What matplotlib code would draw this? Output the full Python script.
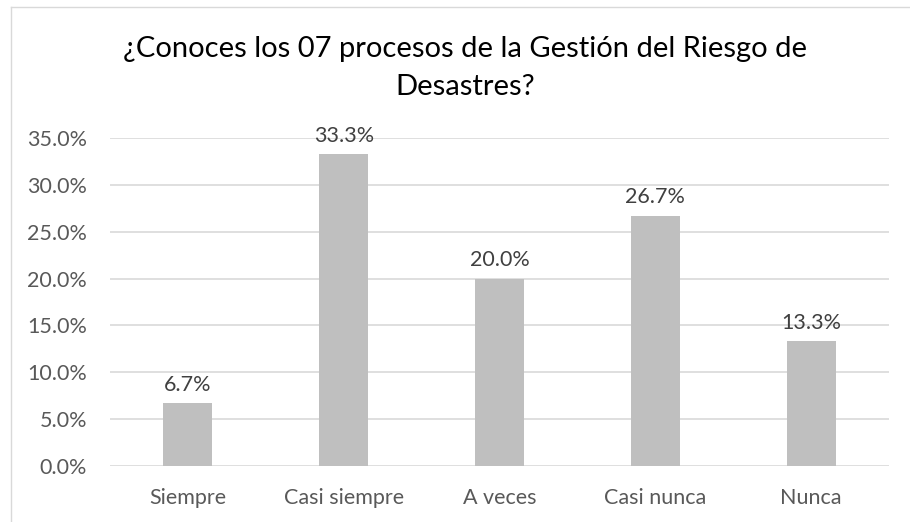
import matplotlib.pyplot as plt
from matplotlib.ticker import FuncFormatter
import numpy as np

categorias = ["Siempre", "Casi siempre", "A veces", "Casi nunca", "Nunca"]
porcentajes = [6.7, 33.3, 20.0, 26.7, 13.3]
titulo = "¿Conoces los 07 procesos de la Gestión del Riesgo de\nDesastres?"

plt.rcParams['font.family'] = ['Lato', 'DejaVu Sans']

fig = plt.figure(figsize=(9.1, 5.22), dpi=100)
ax = fig.add_axes([110 / 910, 1 - 466 / 522, 779 / 910, 328 / 522])

x = np.arange(len(categorias))
barras = ax.bar(x, porcentajes, width=0.315, color="#bfbfbf", zorder=3)

for b, v in zip(barras, porcentajes):
    ax.annotate(f"{v:.1f}%", (b.get_x() + b.get_width() / 2, v),
                xytext=(0, 6), textcoords="offset points",
                ha="center", va="bottom", fontsize=15.5, color="#404040")

ax.set_xlim(-0.5, len(categorias) - 0.5)
ax.set_ylim(0, 35)
ax.set_yticks(np.arange(0, 35.1, 5))
ax.yaxis.set_major_formatter(FuncFormatter(lambda v, p: f"{v:.1f}%"))
ax.set_xticks(x)
ax.set_xticklabels(categorias)
ax.tick_params(axis="both", length=0, labelsize=15.5, labelcolor="#595959")
ax.tick_params(axis="y", pad=16.5)
ax.tick_params(axis="x", pad=16)
ax.grid(axis="y", color="#d9d9d9", linewidth=1.2, zorder=0)
for s in ax.spines.values():
    s.set_visible(False)

fig.text(465 / 910, 1 - 68 / 522, titulo, ha="center", va="center",
         fontsize=21, color="#000000", linespacing=1.55)

# marco del gráfico
fig.add_artist(plt.Line2D([11 / 910, 11 / 910], [0, 1 - 7 / 522],
                          transform=fig.transFigure, color="#d9d9d9", lw=1))
fig.add_artist(plt.Line2D([11 / 910, 1], [1 - 7 / 522, 1 - 7 / 522],
                          transform=fig.transFigure, color="#d9d9d9", lw=1))

fig.savefig("out.png", dpi=100)
